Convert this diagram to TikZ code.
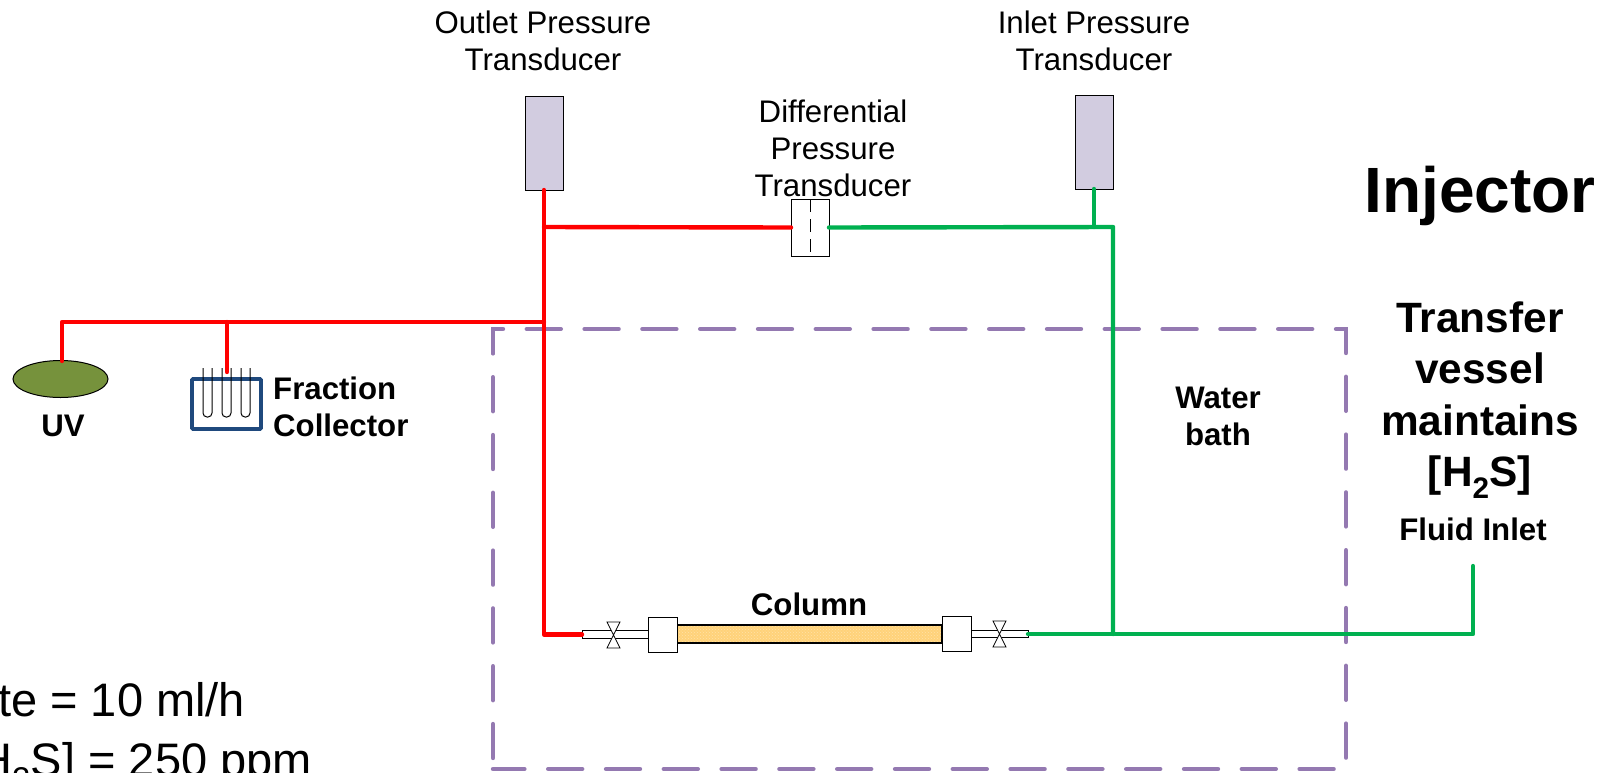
\documentclass[tikz,border=0pt]{standalone}
\usepackage{fontspec}
\usetikzlibrary{shapes.geometric,patterns}
\setmainfont{Liberation Sans}
\newcommand{\fsz}[2]{\fontsize{#1}{#2}\selectfont}
\definecolor{pipegreen}{HTML}{00B050}
\definecolor{gaugefill}{HTML}{D2CCE0}
\definecolor{bathpurple}{HTML}{9479B1}
\definecolor{uvgreen}{HTML}{76923C}
\definecolor{fcblue}{HTML}{1F497D}
\definecolor{colfill}{HTML}{FFD27A}
\definecolor{coldots}{HTML}{FFE3A8}
\tikzset{
  x=1pt,y=-1pt,
  redline/.style={draw=red,line width=4.4pt,line cap=round,line join=round},
  greenline/.style={draw=pipegreen,line width=4.4pt,line cap=round,line join=round},
  bathline/.style={draw=bathpurple,line width=4.4pt,dash pattern=on 34pt off 23.8pt,line cap=round},
  partbox/.style={draw=black,line width=1pt,fill=white,inner sep=0pt,outer sep=0pt,rectangle},
  gauge/.style={draw=black,line width=1pt,fill=gaugefill,inner sep=0pt,outer sep=0pt,rectangle,minimum width=38pt,minimum height=94pt},
  plainlabel/.style={align=center,inner sep=0pt,font=\fsz{31.2}{37}},
  blabel/.style={align=center,inner sep=0pt,font=\fsz{31.2}{37}\bfseries},
  valve/.style={draw=black,line width=.8pt,fill=white},
}
\begin{document}
\begin{tikzpicture}
\useasboundingbox (0,0) rectangle (1614,772);
% water bath
\coordinate (bathNW) at (493,329);
\coordinate (bathNE) at (1346,329);
\coordinate (bathSE) at (1346,769);
\coordinate (bathSW) at (493,769);
\draw[bathline] (493,353) -- (bathNW) -- (bathNE) -- (bathSE) -- (bathSW);
\draw[bathline] (493,758) -- (493,353);
% gauges
\node[gauge] (outlet) at (544,143) {};
\node[gauge] (inlet) at (1094,142) {};
\node[partbox,minimum width=38pt,minimum height=57pt] (dp) at (810,227.5) {};
\draw[line width=1pt,dash pattern=on 13pt off 7pt] (dp.north) -- (dp.south);
% column parts
\node[partbox,line width=1.2pt,preaction={fill=colfill},fill=none,pattern=crosshatch dots,pattern color=coldots,minimum width=265pt,minimum height=18pt] (col) at (809.5,634) {};
\node[partbox,minimum width=29pt,minimum height=35pt] (capL) at (662.5,634.5) {};
\node[partbox,minimum width=29pt,minimum height=35pt] (capR) at (956.5,634) {};
\node[partbox,minimum width=66pt,minimum height=7.5pt,anchor=east] (tubeL) at (capL.west) {};
\node[partbox,minimum width=57pt,minimum height=7.5pt,anchor=west] (tubeR) at (capR.east) {};
\draw[valve] (607,622) -- (620,622) -- (607,648) -- (620,648) -- cycle;
\draw[valve] (993,621) -- (1006,621) -- (993,647) -- (1006,647) -- cycle;
% UV and fraction collector
\node[draw=black,line width=1pt,fill=uvgreen,ellipse,inner sep=0pt,minimum width=95pt,minimum height=37pt] (uv) at (60.5,379) {};
\node[draw=fcblue,line width=3.8pt,rounded corners=1pt,inner sep=0pt,minimum width=69pt,minimum height=50pt] (fc) at (226.5,404) {};
\foreach \tx in {203,222,241}{
  \draw[line width=1pt,rounded corners=4pt] (\tx,368) -- (\tx,417) -- (\tx+9,417) -- (\tx+9,368);
}
% pipes
\coordinate (jA) at (544,322);
\coordinate (jB) at (544,227);
\coordinate (jC) at (1113,227);
\coordinate (jD) at (1113,634);
\coordinate (feed) at (1473,566);
\draw[redline] (outlet.south) -- (jB) -- (jA) |- (tubeL.west);
\draw[redline] (jB) -- (dp.west);
\draw[redline] (jA) -- (62,322) -- (62,361);
\draw[redline] (227,322) -- (227,372);
\draw[greenline] (dp.east) -- (jC) -- (jD);
\draw[greenline] (inlet.south) -- (1094,227);
\draw[greenline] (tubeR.east) -- (1473,634) -- (feed);
% labels
\node[plainlabel] (lout) at (543,41) {Outlet Pressure\\Transducer};
\node[plainlabel] (lin) at (1094,41) {Inlet Pressure\\Transducer};
\node[plainlabel] (ldp) at (833,148) {Differential\\Pressure\\Transducer};
\node[blabel] (luv) at (63,426) {UV};
\node[blabel,align=left,anchor=west] (lfc) at (273,407) {Fraction\\Collector};
\node[blabel] (lcol) at (809,604) {Column};
\node[blabel] (lbath) at (1218,416) {Water\\bath};
\node[align=center,inner sep=0pt,font=\fsz{64}{70}\bfseries] (linj) at (1480,196) {Injector};
\node[align=center,inner sep=0pt,font=\fsz{42.4}{51.5}\bfseries] (ltv) at (1480,400) {Transfer\\vessel\\maintains\\{[H\textsubscript{2}S]}};
\node[blabel] (lfi) at (1473,529) {Fluid Inlet};
\node[inner sep=0pt,anchor=base west,font=\fsz{47}{50}] (lrate) at (-2,716) {te = 10 ml/h};
\node[inner sep=0pt,anchor=base west,font=\fsz{47}{50}] (lconc) at (-35,776) {[H\textsubscript{2}S] = 250 ppm};
\end{tikzpicture}
\end{document}
